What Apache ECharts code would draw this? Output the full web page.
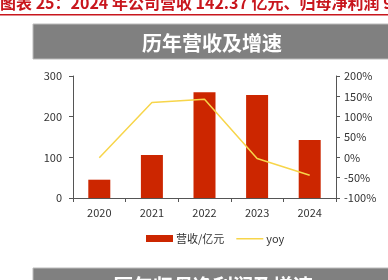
<!DOCTYPE html>
<html><head><meta charset="utf-8">
<script src="https://cdn.jsdelivr.net/npm/echarts@6/dist/echarts.min.js"></script>
<style>html,body{margin:0;padding:0;background:#fff}#c{width:388px;height:280px}</style>
</head><body><div id="c"></div>
<script>
const categories = ['2020','2021','2022','2023','2024'];
const revenue = [45, 106, 260, 253, 142.37];
const yoy = [-1, 135, 143, -3, -44];
const leftTicks = [0, 100, 200, 300];
const rightTicks = [-100, -50, 0, 50, 100, 150, 200];
const titleText = '图表 25：2024 年公司营收 142.37 亿元、归母净利润 93';
const banner1 = '历年营收及增速';
const banner2 = '历年归母净利润及增速';

const chart = echarts.init(document.getElementById('c'), null, {renderer:'canvas'});
const font = '"Noto Sans CJK SC", "DejaVu Sans", sans-serif';
const lineIcon = 'path://M0,0L0,0Z M0,3L27,3L27,4.5L0,4.5Z M0,7L0,7Z';
chart.setOption({
  animation: false,
  textStyle: {fontFamily: font},
  grid: {left: 73, right: 52, top: 76, bottom: 82},
  legend: {
    left: 141, top: 228, itemGap: 12, itemWidth: 27, itemHeight: 7,
    textStyle: {fontSize: 11, color: '#333', fontFamily: font, padding: [0,0,0,-2]},
    data: [{name: '营收/亿元', icon: 'rect'}, {name: 'yoy', icon: lineIcon}]
  },
  xAxis: {
    type: 'category', data: categories,
    axisLine: {lineStyle: {color: '#555'}},
    axisTick: {show: true, length: 4, lineStyle: {color: '#555'}},
    axisLabel: {fontSize: 11, color: '#333', margin: 9}
  },
  yAxis: [
    {type: 'value', min: 0, max: 300, interval: 100, position: 'left',
     axisLine: {show: true, lineStyle: {color: '#555'}},
     axisTick: {show: true, length: 4, lineStyle: {color: '#555'}},
     splitLine: {show: false},
     axisLabel: {fontSize: 11, color: '#333', margin: 11}},
    {type: 'value', min: -100, max: 200, interval: 50, position: 'right',
     axisLine: {show: true, lineStyle: {color: '#555'}},
     axisTick: {show: true, length: 4, lineStyle: {color: '#555'}},
     splitLine: {show: false},
     axisLabel: {fontSize: 11, color: '#333', margin: 8, formatter: v => v + '%'}}
  ],
  series: [
    {name: '营收/亿元', type: 'bar', data: revenue, barWidth: 22,
     itemStyle: {color: '#cc2600'}},
    {name: 'yoy', type: 'line', yAxisIndex: 1, data: yoy, symbol: 'none',
     lineStyle: {color: '#f7d54a', width: 1.5}, itemStyle: {color: '#f7d54a'}}
  ],
  graphic: [
    {type: 'text', left: 0, top: -5, style: {text: titleText, fill: '#c8161d', font: 'bold 16px ' + font}},
    {type: 'rect', shape: {x: 0, y: 14, width: 388, height: 1.5}, style: {fill: '#c8161d'}},
    {type: 'rect', shape: {x: 33, y: 24, width: 360, height: 35}, style: {fill: '#808080', stroke: '#bbb', lineWidth: 1}},
    {type: 'text', x: 212, y: 43, style: {text: banner1, fill: '#fff', font: 'bold 20px ' + font, textAlign: 'center', textVerticalAlign: 'middle'}},
    {type: 'rect', shape: {x: 33, y: 268, width: 360, height: 35}, style: {fill: '#808080', stroke: '#bbb', lineWidth: 1}},
    {type: 'text', x: 213, y: 286, style: {text: banner2, fill: '#fff', font: 'bold 20px ' + font, textAlign: 'center', textVerticalAlign: 'middle'}}
  ]
});
</script></body></html>
